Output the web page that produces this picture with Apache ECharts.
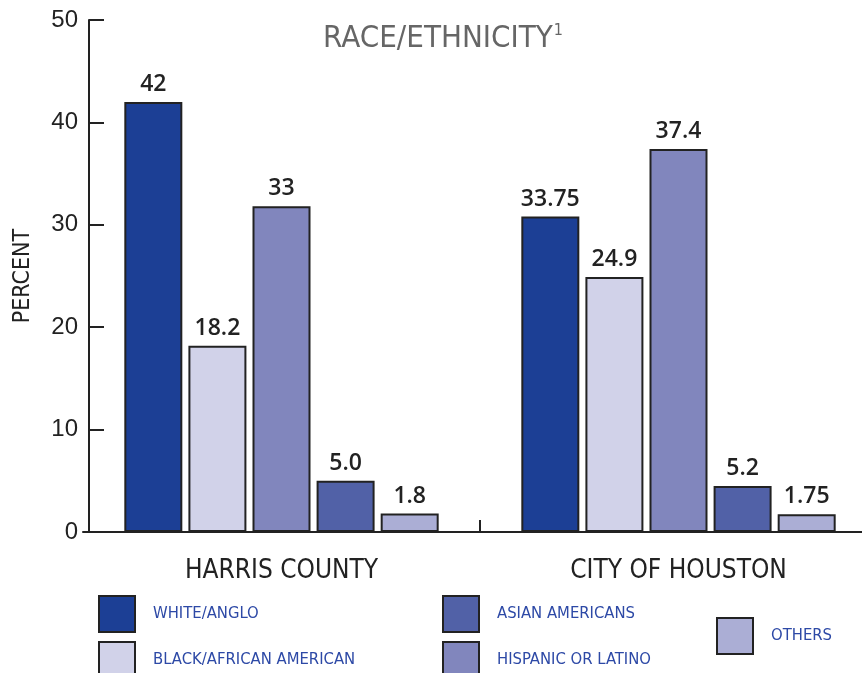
<!DOCTYPE html>
<html>
<head>
<meta charset="utf-8">
<script src="https://cdn.jsdelivr.net/npm/echarts@6/dist/echarts.min.js"></script>
<style>html,body{margin:0;padding:0;background:#fff}#main{width:862px;height:673px}</style>
</head>
<body>
<div id="main"></div>
<script>
// 数据
var categories = ['HARRIS COUNTY', 'CITY OF HOUSTON'];
var seriesNames = ['WHITE/ANGLO', 'BLACK/AFRICAN AMERICAN', 'HISPANIC OR LATINO', 'ASIAN AMERICANS', 'OTHERS'];
var whiteAnglo = [42.0, 30.8];
var blackAfrican = [18.2, 24.9];
var hispanic = [31.8, 37.4];
var asian = [5.0, 4.5];
var others = [1.8, 1.73];
// 柱子上方显示的标签（原图标签与柱高不完全一致）
var whiteLabels = ['42', '33.75'];
var blackLabels = ['18.2', '24.9'];
var hispanicLabels = ['33', '37.4'];
var asianLabels = ['5.0', '5.2'];
var otherLabels = ['1.8', '1.75'];
var yTicks = [0, 10, 20, 30, 40, 50];

var narrow = "'DejaVu Sans Condensed', 'Liberation Sans', sans-serif";
var colors = ['#1c3f95', '#d1d2e9', '#8186bd', '#5161a7', '#abaed5'];

function makeSeries(i, data, labels) {
    return {
        name: seriesNames[i],
        type: 'bar',
        xAxisIndex: 0,
        data: data,
        barWidth: 58,
        barGap: '10.5%',
        itemStyle: {color: colors[i], borderColor: '#222', borderWidth: 2},
        label: {
            show: true, position: 'top', distance: 6,
            formatter: function (p) { return labels[p.dataIndex]; },
            color: '#222', fontSize: 23, fontWeight: 600, fontFamily: 'Open Sans'
        }
    };
}

var myChart = echarts.init(document.getElementById('main'));
var legendText = {color: '#2d49a6', fontSize: 16.5, fontFamily: narrow, padding: [0, 0, 0, 13]};
var legendBase = {orient: 'vertical', icon: 'rect', itemWidth: 36, itemHeight: 36, itemGap: 8,
    padding: 0, height: 120, textStyle: legendText};
var option = {
    animation: false,
    title: {
        text: 'RACE/ETHNICITY{sup|1}', left: 438, top: 18, textAlign: 'center',
        textStyle: {
            color: '#666', fontSize: 31, fontWeight: 'normal', fontFamily: narrow,
            rich: {sup: {fontSize: 16, color: '#666', fontFamily: narrow, verticalAlign: 'top', padding: [0, 0, 13, 1]}}
        }
    },
    legend: [
        Object.assign({left: 98, top: 595, data: ['WHITE/ANGLO', 'BLACK/AFRICAN AMERICAN']}, legendBase),
        Object.assign({left: 442, top: 595, data: ['ASIAN AMERICANS', 'HISPANIC OR LATINO']}, legendBase),
        Object.assign({left: 716, top: 617, data: ['OTHERS']}, legendBase)
    ],
    grid: {left: 83, width: 794, top: 20, bottom: 141, outerBoundsMode: 'none'},
    xAxis: [{
        type: 'category', data: categories,
        axisLine: {lineStyle: {color: '#222', width: 2}},
        axisTick: {show: false},
        axisLabel: {color: '#222', fontSize: 26, fontFamily: narrow, margin: 26}
    }, {
        // 只用来画两组之间的分隔刻度
        type: 'value', position: 'bottom', min: 0, max: 2,
        axisLine: {show: false},
        axisLabel: {show: false},
        splitLine: {show: false},
        axisTick: {show: true, inside: true, length: 12, customValues: [1], lineStyle: {color: '#222', width: 2}}
    }],
    yAxis: {
        type: 'value', min: 0, max: 50, interval: 10, offset: -6,
        name: 'PERCENT', nameLocation: 'middle', nameGap: 54, nameRotate: 90,
        nameTextStyle: {color: '#222', fontSize: 23, fontFamily: narrow},
        axisLine: {show: true, lineStyle: {color: '#222', width: 2}},
        axisTick: {show: true, inside: true, length: 15, lineStyle: {color: '#222', width: 2}},
        splitLine: {show: false},
        axisLabel: {color: '#222', fontSize: 24, fontFamily: 'Liberation Sans', margin: 11,
            formatter: function (v) { return yTicks.indexOf(v) >= 0 ? String(v) : ''; }}
    },
    series: [
        makeSeries(0, whiteAnglo, whiteLabels),
        makeSeries(1, blackAfrican, blackLabels),
        makeSeries(2, hispanic, hispanicLabels),
        makeSeries(3, asian, asianLabels),
        makeSeries(4, others, otherLabels)
    ]
};
myChart.setOption(option);
</script>
</body>
</html>
